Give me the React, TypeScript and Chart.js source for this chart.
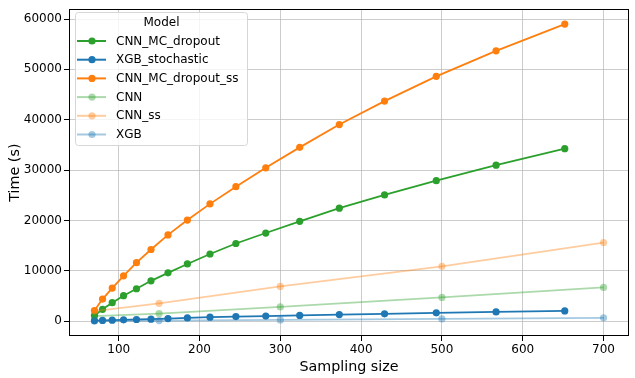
import React, { useEffect, useRef } from "react";
import { Chart, registerables } from "chart.js";

Chart.register(...registerables);

const denseSizes = [70, 80, 92, 106, 122, 140, 161, 185, 213, 245, 282, 324, 373, 429, 493, 567, 652];
const sparseSizes = [70, 150, 300, 500, 700];

const cnnMcDropout = [1100, 2350, 3670, 5050, 6430, 8010, 9590, 11360, 13330, 15420, 17500, 19820, 22440, 25060, 27900, 30970, 34250];
const xgbStochastic = [100, 150, 200, 260, 330, 400, 520, 640, 790, 900, 1000, 1130, 1300, 1450, 1650, 1840, 2030];
const cnnMcDropoutSs = [2100, 4390, 6560, 9000, 11610, 14230, 17130, 20080, 23290, 26700, 30450, 34510, 39040, 43700, 48620, 53680, 59000];
const cnn = [1000, 1510, 2820, 4720, 6690];
const cnnSs = [2000, 3540, 6890, 10890, 15610];
const xgb = [30, 120, 250, 450, 650];

const xTicks = [100, 200, 300, 400, 500, 600, 700];
const yTicks = [0, 10000, 20000, 30000, 40000, 50000, 60000];

const GREEN = "#2ca02c";
const BLUE = "#1f77b4";
const ORANGE = "#ff7f0e";
const LGREEN = "rgba(44,160,44,0.4)";
const LBLUE = "rgba(31,119,180,0.4)";
const LORANGE = "rgba(255,127,14,0.4)";

const FONT = "'DejaVu Sans', sans-serif";

const legendItems = [
  { label: "CNN_MC_dropout", color: GREEN },
  { label: "XGB_stochastic", color: BLUE },
  { label: "CNN_MC_dropout_ss", color: ORANGE },
  { label: "CNN", color: LGREEN },
  { label: "CNN_ss", color: LORANGE },
  { label: "XGB", color: LBLUE },
];

const toPts = (xs: number[], ys: number[]) => xs.map((x, i) => ({ x, y: ys[i] }));

const framePlugin = {
  id: "frame",
  afterDatasetsDraw(chart: any) {
    const { ctx, chartArea: a } = chart;
    ctx.save();
    ctx.strokeStyle = "#000";
    ctx.lineWidth = 1;
    ctx.strokeRect(Math.round(a.left) + 0.5, Math.round(a.top) + 0.5, Math.round(a.right - a.left) - 1, Math.round(a.bottom - a.top) - 1);
    ctx.restore();
  },
};

const legendPlugin = {
  id: "mplLegend",
  afterDraw(chart: any) {
    const ctx = chart.ctx;
    ctx.save();
    const x0 = 75.5, y0 = 12.5, w = 172, h = 133, r = 3;
    ctx.beginPath();
    ctx.moveTo(x0 + r, y0);
    ctx.lineTo(x0 + w - r, y0);
    ctx.arcTo(x0 + w, y0, x0 + w, y0 + r, r);
    ctx.lineTo(x0 + w, y0 + h - r);
    ctx.arcTo(x0 + w, y0 + h, x0 + w - r, y0 + h, r);
    ctx.lineTo(x0 + r, y0 + h);
    ctx.arcTo(x0, y0 + h, x0, y0 + h - r, r);
    ctx.lineTo(x0, y0 + r);
    ctx.arcTo(x0, y0, x0 + r, y0, r);
    ctx.closePath();
    ctx.fillStyle = "rgba(255,255,255,0.8)";
    ctx.fill();
    ctx.strokeStyle = "#d6d6d6";
    ctx.lineWidth = 1;
    ctx.stroke();

    ctx.font = `12px ${FONT}`;
    ctx.fillStyle = "#000";
    ctx.textAlign = "center";
    ctx.textBaseline = "middle";
    ctx.fillText("Model", 161.5, 23);

    ctx.textAlign = "left";
    legendItems.forEach((it, i) => {
      const cy = 41 + i * 18.7;
      ctx.strokeStyle = it.color;
      ctx.lineWidth = 2;
      ctx.beginPath();
      ctx.moveTo(77, cy);
      ctx.lineTo(106, cy);
      ctx.stroke();
      ctx.fillStyle = it.color;
      ctx.beginPath();
      ctx.arc(92, cy, 3.6, 0, Math.PI * 2);
      ctx.fill();
      ctx.fillStyle = "#000";
      ctx.fillText(it.label, 116, cy + 0.5);
    });
    ctx.restore();
  },
};

export default function App() {
  const ref = useRef<HTMLCanvasElement | null>(null);

  useEffect(() => {
    document.body.style.margin = "0";
    if (!ref.current) return;
    const mk = (label: string, xs: number[], ys: number[], color: string, order: number) => ({
      label,
      data: toPts(xs, ys),
      borderColor: color,
      backgroundColor: color,
      pointBackgroundColor: color,
      pointBorderWidth: 0,
      pointRadius: 3.6,
      borderWidth: 1.8,
      showLine: true,
      fill: false,
      tension: 0,
      order,
    });
    const chart = new Chart(ref.current, {
      type: "scatter",
      data: {
        datasets: [
          mk("CNN_MC_dropout", denseSizes, cnnMcDropout, GREEN, 6),
          mk("XGB_stochastic", denseSizes, xgbStochastic, BLUE, 5),
          mk("CNN_MC_dropout_ss", denseSizes, cnnMcDropoutSs, ORANGE, 4),
          mk("CNN", sparseSizes, cnn, LGREEN, 3),
          mk("CNN_ss", sparseSizes, cnnSs, LORANGE, 2),
          mk("XGB", sparseSizes, xgb, LBLUE, 1),
        ] as any,
      },
      plugins: [framePlugin, legendPlugin],
      options: {
        animation: false,
        responsive: false,
        maintainAspectRatio: false,
        layout: { padding: { top: 7, right: 6, left: 0, bottom: 0 } },
        plugins: { legend: { display: false }, tooltip: { enabled: false } },
        scales: {
          x: {
            type: "linear",
            min: 38.5,
            max: 731.5,
            afterBuildTicks: (ax: any) => {
              ax.ticks = xTicks.map((v) => ({ value: v }));
            },
            afterFit: (ax: any) => {
              ax.height = 42;
            },
            border: { display: false },
            grid: { color: "rgba(176,176,176,0.65)", lineWidth: 1, tickColor: "#000", tickLength: 5 },
            ticks: { color: "#000", font: { family: FONT, size: 12 }, padding: 2, maxRotation: 0, autoSkip: false },
            title: {
              display: true,
              text: "Sampling size",
              color: "#000",
              font: { family: FONT, size: 14.3, lineHeight: 1.2 },
              padding: { top: 0, bottom: 2.5 },
            },
          },
          y: {
            type: "linear",
            min: -2950,
            max: 61950,
            afterBuildTicks: (ax: any) => {
              ax.ticks = yTicks.map((v) => ({ value: v }));
            },
            afterFit: (ax: any) => {
              ax.width = 69;
            },
            border: { display: false },
            grid: { color: "rgba(176,176,176,0.65)", lineWidth: 1, tickColor: "#000", tickLength: 5 },
            ticks: { color: "#000", font: { family: FONT, size: 12 }, padding: 2, autoSkip: false, callback: (v: any) => String(v) },
            title: {
              display: true,
              text: "Time (s)",
              color: "#000",
              font: { family: FONT, size: 14.3, lineHeight: 1.2 },
              padding: { top: 6.4, bottom: 0 },
            },
          },
        },
      },
    });
    return () => chart.destroy();
  }, []);

  return (
    <div style={{ width: 635, height: 378 }}>
      <canvas ref={ref} width={635} height={378} style={{ width: 635, height: 378, display: "block" }} />
    </div>
  );
}
